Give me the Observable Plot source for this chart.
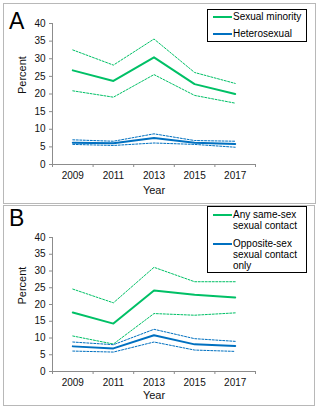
<!DOCTYPE html>
<html><head><meta charset="utf-8">
<script src="https://cdn.jsdelivr.net/npm/d3@7"></script>
<script src="https://cdn.jsdelivr.net/npm/@observablehq/plot@0.6"></script>
<style>
body{margin:0;background:#fff;font-family:"Liberation Sans",Arial,sans-serif;}
#root{position:relative;width:321px;height:411px;overflow:hidden;background:#fff}
.panel{position:absolute;border:1px solid #b8b8b8;box-sizing:border-box}
.letter{position:absolute;font-size:23px;line-height:23px;color:#000}
.legend{position:absolute;border:1px solid #000;background:#fff;box-sizing:border-box}
.lline{position:absolute;height:2px;width:19px;left:5px}
.ltext{position:absolute;left:25px;font-size:10px;line-height:11px;color:#000;white-space:nowrap}
.plot{position:absolute;left:0}
</style>
</head><body>
<div id="root">
  <div class="panel" style="left:3px;top:3px;width:313px;height:201px"></div>
  <div class="panel" style="left:3px;top:205px;width:312px;height:201px"></div>
  <div class="letter" style="left:9px;top:10px">A</div>
  <div class="letter" style="left:9px;top:207px">B</div>
  <div id="plotA" class="plot" style="top:0px"></div>
  <div id="plotB" class="plot" style="top:205px"></div>
  <div class="legend" style="left:207px;top:9px;width:100px;height:33px">
    <div class="lline" style="top:6px;background:#00c066"></div>
    <div class="ltext" style="top:1px">Sexual minority</div>
    <div class="lline" style="top:23px;background:#0070c0"></div>
    <div class="ltext" style="top:18px">Heterosexual</div>
  </div>
  <div class="legend" style="left:207px;top:206px;width:100px;height:67px">
    <div class="lline" style="top:7px;background:#00c066"></div>
    <div class="ltext" style="top:2px">Any same-sex<br>sexual contact</div>
    <div class="lline" style="top:36px;background:#0070c0"></div>
    <div class="ltext" style="top:31px">Opposite-sex<br>sexual contact<br>only</div>
  </div>
</div>
<script>
const years = [2009, 2011, 2013, 2015, 2017];
const yTicks = [0, 5, 10, 15, 20, 25, 30, 35, 40];
const xBoundaries = [2008, 2010, 2012, 2014, 2016, 2018];

// Panel A
const minorityMean  = [26.7, 23.7, 30.4, 22.8, 20.0];
const minorityUpper = [32.5, 28.2, 35.6, 26.1, 23.0];
const minorityLower = [20.9, 19.1, 25.5, 19.6, 17.4];
const heteroMean    = [6.2, 6.0, 7.5, 6.2, 5.8];
const heteroUpper   = [7.0, 6.6, 8.7, 6.8, 6.6];
const heteroLower   = [5.7, 5.4, 6.1, 5.7, 4.9];

// Panel B
const sameSexMean   = [17.6, 14.3, 24.2, 22.9, 22.1];
const sameSexUpper  = [24.6, 20.5, 31.1, 26.8, 26.8];
const sameSexLower  = [10.6, 8.2, 17.3, 16.8, 17.5];
const oppSexMean    = [7.5, 6.9, 10.8, 8.1, 7.6];
const oppSexUpper   = [8.8, 8.0, 12.6, 9.8, 9.0];
const oppSexLower   = [6.1, 5.8, 8.8, 6.4, 6.0];

const GREEN = "#00c066", BLUE = "#0070c0";

function rows(series) {
  const out = [];
  for (const s of series) s.values.forEach((v, i) => out.push({key: s.key, year: years[i], value: v, color: s.color, kind: s.kind}));
  return out;
}

function panel(series, opts) {
  const data = rows(series);
  const solid = data.filter(d => d.kind === "mean");
  const dashed = data.filter(d => d.kind !== "mean");
  return Plot.plot({
    width: 321, height: opts.height,
    marginLeft: 52, marginRight: 66, marginTop: opts.mt, marginBottom: opts.mb,
    style: {fontFamily: '"Liberation Sans", Arial, sans-serif', background: "transparent", overflow: "visible"},
    x: {type: "linear", domain: [2008, 2018], axis: null},
    y: {domain: [0, 40], axis: null},
    marks: [
      Plot.ruleX([2008], {stroke: "#8c8c8c", strokeWidth: 1}),
      Plot.ruleY([0], {stroke: "#8c8c8c", strokeWidth: 1}),
      Plot.axisY(yTicks, {tickSize: 3, tickPadding: 4, fontSize: 10, stroke: "#8c8c8c", fill: "#111", label: null}),
      Plot.axisX(xBoundaries, {tickSize: 3, tickFormat: () => "", stroke: "#8c8c8c", label: null}),
      Plot.axisX(years, {tickSize: 0, tickPadding: 7, fontSize: 10, fill: "#111", tickFormat: d => String(d), label: null}),
      Plot.line(dashed, {x: "year", y: "value", z: d => d.key + d.kind, stroke: "color", strokeWidth: 1, strokeDasharray: "2,1.5"}),
      Plot.line(solid, {x: "year", y: "value", z: "key", stroke: "color", strokeWidth: 2}),
      Plot.text(["Percent"], {frameAnchor: "left", dx: -30, rotate: -90, fontSize: 11, fill: "#111"}),
      Plot.text(["Year"], {frameAnchor: "bottom", dy: opts.yearDy, fontSize: 11, fill: "#111"})
    ]
  });
}

const seriesA = [
  {key: "Sexual minority", kind: "mean", color: GREEN, values: minorityMean},
  {key: "Sexual minority", kind: "upper", color: GREEN, values: minorityUpper},
  {key: "Sexual minority", kind: "lower", color: GREEN, values: minorityLower},
  {key: "Heterosexual", kind: "mean", color: BLUE, values: heteroMean},
  {key: "Heterosexual", kind: "upper", color: BLUE, values: heteroUpper},
  {key: "Heterosexual", kind: "lower", color: BLUE, values: heteroLower}
];
const seriesB = [
  {key: "Any same-sex sexual contact", kind: "mean", color: GREEN, values: sameSexMean},
  {key: "Any same-sex sexual contact", kind: "upper", color: GREEN, values: sameSexUpper},
  {key: "Any same-sex sexual contact", kind: "lower", color: GREEN, values: sameSexLower},
  {key: "Opposite-sex sexual contact only", kind: "mean", color: BLUE, values: oppSexMean},
  {key: "Opposite-sex sexual contact only", kind: "upper", color: BLUE, values: oppSexUpper},
  {key: "Opposite-sex sexual contact only", kind: "lower", color: BLUE, values: oppSexLower}
];

document.getElementById("plotA").append(panel(seriesA, {height: 205, mt: 23, mb: 41, yearDy: 29}));
document.getElementById("plotB").append(panel(seriesB, {height: 206, mt: 32, mb: 40, yearDy: 27}));
</script>
</body></html>
